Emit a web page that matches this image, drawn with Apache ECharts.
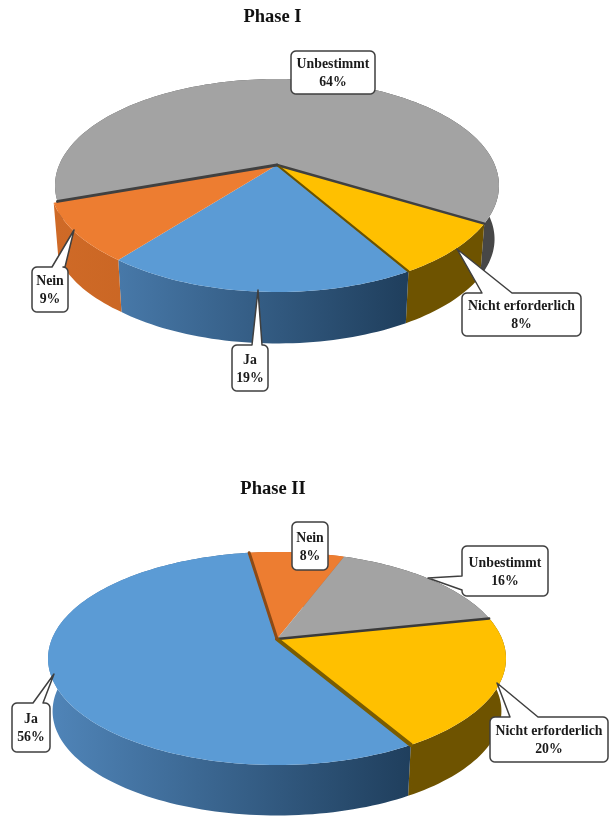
<!DOCTYPE html>
<html>
<head>
<meta charset="utf-8">
<title>Phase I / Phase II</title>
<script src="https://cdn.jsdelivr.net/npm/echarts@6/dist/echarts.min.js"></script>
<style>
  html, body { margin: 0; padding: 0; background: #fff; }
  #chart { width: 609px; height: 816px; }
</style>
</head>
<body>
<div id="chart"></div>
<script>
// Shares of answers per phase, in clockwise drawing order.
const phase1Categories = ['Nicht erforderlich', 'Ja', 'Nein', 'Unbestimmt'];
const phase1Values = [8, 19, 9, 64];
const phase2Categories = ['Nicht erforderlich', 'Ja', 'Nein', 'Unbestimmt'];
const phase2Values = [20, 56, 8, 16];

const FONT = '"Liberation Serif", serif';

const topColors = {
  'Nicht erforderlich': '#ffc000', 'Ja': '#5b9bd5', 'Nein': '#ed7d31', 'Unbestimmt': '#a3a3a3'
};
const wallStops = {
  'Nicht erforderlich': ['#7f6000', '#6e5300'],
  'Ja': ['#5085b9', '#1f3e5c'],
  'Nein': ['#cf6a27', '#b9591a'],
  'Unbestimmt': ['#5c5c5c', '#474747']
};

// Scene settings for a tilted disc; front and back give the perspective foreshortening.
const scenes = [
  {
    title: 'Phase I', titleX: 272.5, titleY: 17,
    names: phase1Categories, values: phase1Values,
    cx: 277, cy: 165, rx: 222, front: 127, back: 86, depth: 54, start: 31,
    pull: { 'Nein': 4 },
    seams: [
      { at: 0, color: '#404040', width: 2.5 },
      { at: 1, color: '#6b5200', width: 2.2 },
      { at: 3, color: '#404040', width: 3 }
    ],
    boxes: {
      'Unbestimmt': { box: [291, 51, 375, 94] },
      'Nein': { box: [32, 267, 68, 312], side: 'top', base: [52, 65], tip: [74, 230] },
      'Ja': { box: [232, 345, 268, 391], side: 'top', base: [252, 262], tip: [258, 290] },
      'Nicht erforderlich': { box: [462, 293, 581, 336], side: 'top', base: [482, 512], tip: [457, 249] }
    }
  },
  {
    title: 'Phase II', titleX: 273, titleY: 489,
    names: phase2Categories, values: phase2Values,
    cx: 277, cy: 639, rx: 229, front: 126, back: 87, depth: 53, start: -12,
    pull: {},
    seams: [
      { at: 0, color: '#3a3a3a', width: 2.5 },
      { at: 1, color: '#7a5c00', width: 4 },
      { at: 2, color: '#8c4a16', width: 3 }
    ],
    boxes: {
      'Nein': { box: [292, 522, 328, 570] },
      'Unbestimmt': { box: [462, 546, 548, 596], side: 'left', base: [576, 590], tip: [428, 578] },
      'Ja': { box: [12, 703, 50, 752], side: 'top', base: [33, 43], tip: [54, 674] },
      'Nicht erforderlich': { box: [490, 717, 608, 762], side: 'top', base: [510, 538], tip: [497, 683] }
    }
  }
];

// Maps an angle on the disc (degrees, clockwise from the right) to the top rim.
function project(s, deg) {
  const k = (s.front - s.back) / (s.front + s.back);
  const a = s.rx * Math.sqrt(1 - k * k);
  const b = s.front * (1 - k);
  const t = deg * Math.PI / 180;
  const w = 1 - k * Math.sin(t);
  return [s.cx + a * Math.cos(t) / w, s.cy + b * Math.sin(t) / w];
}

function lowerRim(s, p) {
  const shrink = 0.98;
  return [s.cx + (p[0] - s.cx) * shrink, s.cy + (p[1] - s.cy) * shrink + s.depth];
}

// Start and end angle of every slice, taken from its share of the total.
function sliceAngles(s) {
  const total = s.values.reduce((x, y) => x + y, 0);
  let angle = s.start;
  return s.values.map(v => {
    const from = angle;
    angle += v / total * 360;
    return [from, angle];
  });
}

// Rim of one slice; a pulled slice swings outwards towards its far corner.
function rimPoints(s, name, range) {
  const pts = [];
  const n = Math.max(8, Math.ceil((range[1] - range[0]) / 1.5));
  const d = s.pull[name] || 0;
  const dir = range[1] * Math.PI / 180;
  for (let i = 0; i <= n; i++) {
    const p = project(s, range[0] + (range[1] - range[0]) * i / n);
    const ramp = d * i / n;
    pts.push([p[0] + ramp * Math.cos(dir), p[1] + ramp * Math.sin(dir)]);
  }
  return pts;
}

function wallItem(s) {
  const angles = sliceAngles(s);
  return function (params) {
    const name = s.names[params.dataIndex];
    const rim = rimPoints(s, name, angles[params.dataIndex]);
    const points = rim.concat(rim.map(p => lowerRim(s, p)).reverse());
    const stops = wallStops[name];
    return {
      type: 'polygon',
      // The large back slice sits behind every other wall.
      z2: name === 'Unbestimmt' ? 0 : 1,
      shape: { points: points },
      style: {
        fill: new echarts.graphic.LinearGradient(s.cx - s.rx, 0, s.cx + s.rx * 0.6, 0, [
          { offset: 0, color: stops[0] }, { offset: 1, color: stops[1] }
        ], true)
      }
    };
  };
}

function topItem(s) {
  const angles = sliceAngles(s);
  return function (params) {
    const name = s.names[params.dataIndex];
    const points = [[s.cx, s.cy]].concat(rimPoints(s, name, angles[params.dataIndex]));
    return {
      type: 'polygon',
      shape: { points: points },
      style: { fill: topColors[name] }
    };
  };
}

// Darker edges along slice boundaries, where a cut face shows through.
function seamItem(s) {
  const angles = sliceAngles(s);
  return function (params) {
    const seam = s.seams[params.dataIndex];
    const angle = seam.at === 0 ? angles[0][0] : angles[seam.at - 1][1];
    const end = project(s, angle);
    return {
      type: 'line',
      shape: { x1: s.cx, y1: s.cy, x2: end[0], y2: end[1] },
      style: { stroke: seam.color, lineWidth: seam.width, lineCap: 'round' }
    };
  };
}

function calloutOutline(c) {
  const [x0, y0, x1, y1] = c.box;
  const r = 5;
  const pts = [];
  const corner = (cx, cy, from) => {
    for (let i = 0; i <= 5; i++) {
      const t = (from + i * 18) * Math.PI / 180;
      pts.push([cx + r * Math.cos(t), cy + r * Math.sin(t)]);
    }
  };
  corner(x0 + r, y0 + r, 180);
  if (c.side === 'top') pts.push([c.base[0], y0], c.tip, [c.base[1], y0]);
  corner(x1 - r, y0 + r, 270);
  corner(x1 - r, y1 - r, 0);
  corner(x0 + r, y1 - r, 90);
  if (c.side === 'left') pts.push([x0, c.base[1]], c.tip, [x0, c.base[0]]);
  return pts;
}

function calloutItem(s) {
  return function (params) {
    const name = s.names[params.dataIndex];
    const c = s.boxes[name];
    return {
      type: 'group',
      children: [
        {
          type: 'polygon',
          shape: { points: calloutOutline(c) },
          style: { fill: '#fff', stroke: '#3f3f3f', lineWidth: 1.5, lineJoin: 'round' }
        },
        {
          type: 'text',
          style: {
            x: (c.box[0] + c.box[2]) / 2,
            y: (c.box[1] + c.box[3]) / 2 + 1,
            text: name + '\n' + s.values[params.dataIndex] + '%',
            font: 'bold 13.8px ' + FONT,
            lineHeight: 18,
            fill: '#1a1a1a',
            textAlign: 'center',
            textVerticalAlign: 'middle'
          }
        }
      ]
    };
  };
}

function customSeries(renderItem, data, z) {
  return {
    type: 'custom', coordinateSystem: 'none', silent: true, animation: false,
    clip: false, z: z, renderItem: renderItem, data: data
  };
}

const series = [];
scenes.forEach(s => {
  series.push(customSeries(wallItem(s), s.values, 1));
  series.push(customSeries(topItem(s), s.values, 2));
  series.push(customSeries(seamItem(s), s.seams.map(m => m.at), 3));
  series.push(customSeries(calloutItem(s), s.values, 4));
});

const chart = echarts.init(document.getElementById('chart'), null, { renderer: 'canvas' });
chart.setOption({
  backgroundColor: '#fff',
  animation: false,
  title: scenes.map(s => ({
    text: s.title,
    left: s.titleX,
    top: s.titleY - 9,
    padding: 0,
    textAlign: 'center',
    textStyle: { fontFamily: FONT, fontWeight: 'bold', fontSize: 18.5, color: '#111' }
  })),
  series: series
});
</script>
</body>
</html>
